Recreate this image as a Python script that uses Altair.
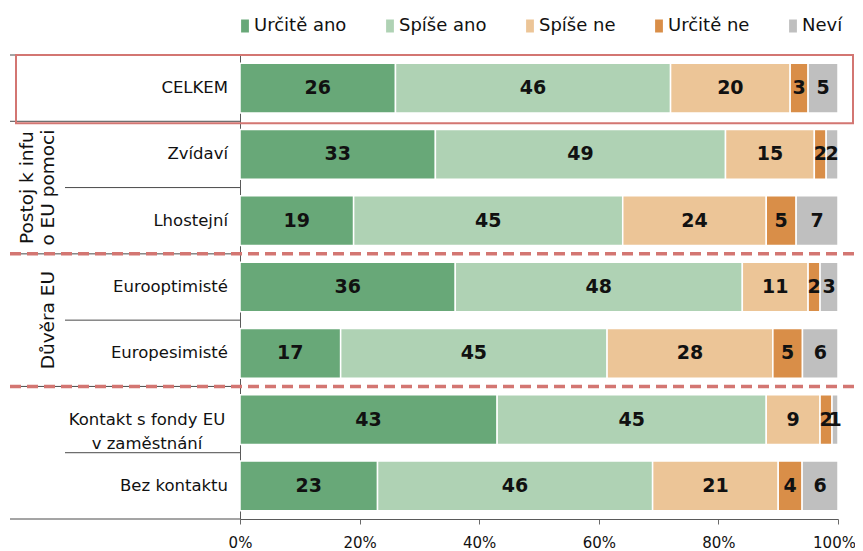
import altair as alt
import pandas as pd

# ---------------- data ----------------
rows = ["CELKEM", "Zvídaví", "Lhostejní", "Eurooptimisté", "Europesimisté",
        "Kontakt s fondy EU\nv zaměstnání", "Bez kontaktu"]
row_groups = [0, 1, 1, 2, 2, 3, 3]
group_labels = {1: "Postoj k infu\no EU pomoci", 2: "Důvěra EU"}

series = ["Určitě ano", "Spíše ano", "Spíše ne", "Určitě ne", "Neví"]
colors = ["#68A878", "#AFD2B4", "#ECC597", "#D98E48", "#BFBFBF"]

urcite_ano = [26, 33, 19, 36, 17, 43, 23]
spise_ano = [46, 49, 45, 48, 45, 45, 46]
spise_ne = [20, 15, 24, 11, 28, 9, 21]
urcite_ne = [3, 2, 5, 2, 5, 2, 4]
nevi = [5, 2, 7, 3, 6, 1, 6]
values = [urcite_ano, spise_ano, spise_ne, urcite_ne, nevi]

# ---------------- tables ----------------
long_rows = []
for si, (s, vals) in enumerate(zip(series, values)):
    for ri, (r, v) in enumerate(zip(rows, vals)):
        long_rows.append({"row": r, "pos": ri, "series": s, "order": si, "value": v})
df = pd.DataFrame(long_rows)

labels_df = pd.DataFrame({
    "label": rows,
    "pos": list(range(len(rows))),
    "group": row_groups,
    "nlines": [r.count("\n") + 1 for r in rows],
})

grp_df = pd.DataFrame([
    {"glabel": lab,
     "nlines": lab.count("\n") + 1,
     "pos": sum(i for i, g in enumerate(row_groups) if g == gid)
            / sum(1 for g in row_groups if g == gid)}
    for gid, lab in group_labels.items()
])

long_b, short_b, dash_b = [], [], []
n = len(rows)
for i in range(n + 1):
    b = i - 0.5
    if i == 0 or i == n or row_groups[i] != row_groups[i - 1]:
        long_b.append(b)
        if 0 < i < n and row_groups[i - 1] != 0 and row_groups[i] != 0:
            dash_b.append(b)
    else:
        short_b.append(b)
long_df = pd.DataFrame({"b": long_b})
short_df = pd.DataFrame({"b": short_b})
dash_df = pd.DataFrame({"b": dash_b})

# ---------------- scales / axes ----------------
FONT = "DejaVu Sans"
yscale = alt.Scale(domain=[-0.5, n - 0.5], reverse=True, nice=False, zero=False)
xscale = alt.Scale(domain=[0, 1], nice=False, zero=False)
xaxis = alt.Axis(format="%", values=[0, 0.2, 0.4, 0.6, 0.8, 1.0], title=None,
                 grid=False, labelFont=FONT, labelFontSize=15, labelColor="#111111",
                 tickColor="#6A6A6A", tickSize=5, domainColor="#5A5A5A",
                 labelPadding=11, labelFlush=False,
                 labelOffset={"expr": "datum.value == 1 ? -4 : 0"})
yaxis = alt.Axis(labels=False, ticks=False, grid=False, title=None,
                 domainColor="#5A5A5A")
RED = "#D37672"
LINE = "#4A4A4A"

base = (
    alt.Chart(df)
    .transform_stack(stack="value", groupby=["row"], as_=["v0", "v1"],
                     offset="normalize", sort=[alt.SortField("order", order="ascending")])
    .transform_calculate(ylo="datum.pos - 0.375", yhi="datum.pos + 0.375",
                         mid="(datum.v0 + datum.v1) / 2")
)

bars = base.mark_bar(stroke="white", strokeWidth=1.5).encode(
    x=alt.X("v0:Q", scale=xscale, axis=xaxis),
    x2="v1:Q",
    y=alt.Y("ylo:Q", scale=yscale, axis=yaxis),
    y2="yhi:Q",
    color=alt.Color("series:N", scale=alt.Scale(domain=series, range=colors),
                    legend=alt.Legend(title=None, orient="none", direction="horizontal",
                                      legendX=-4, legendY=-38,
                                      symbolType="M-0.6,-1H0.6V1H-0.6Z", symbolSize=169,
                                      symbolStrokeWidth=0, labelFont=FONT, labelFontSize=18,
                                      labelColor="#111111", labelOffset=0, columnPadding=34)),
    order=alt.Order("order:Q"),
)

vals = base.mark_text(font=FONT, fontSize=19, fontWeight="bold", color="#111111",
                      baseline="middle", align="center").encode(
    x=alt.X("mid:Q", scale=xscale, axis=xaxis),
    y=alt.Y("pos:Q", scale=yscale, axis=yaxis),
    text="value:Q",
)

lab_base = alt.Chart(labels_df)
row_lab1 = lab_base.transform_filter("datum.nlines == 1").mark_text(
    font=FONT, fontSize=16.5, align="right", baseline="middle", color="#111111").encode(
    x=alt.value(-12), y=alt.Y("pos:Q", scale=yscale, axis=yaxis), text="label:N")
row_lab2 = lab_base.transform_filter("datum.nlines > 1").mark_text(
    font=FONT, fontSize=16.5, align="center", baseline="middle", color="#111111",
    lineBreak="\n", lineHeight=24).encode(
    x=alt.value(-93), y=alt.Y("pos:Q", scale=yscale, axis=yaxis), text="label:N")

grp_base = alt.Chart(grp_df)
grp_lab1 = grp_base.transform_filter("datum.nlines == 1").mark_text(
    font=FONT, fontSize=18.5, angle=270, align="center", baseline="bottom",
    color="#111111").encode(
    x=alt.value(-182), y=alt.Y("pos:Q", scale=yscale, axis=yaxis), text="glabel:N")
grp_lab2 = grp_base.transform_filter("datum.nlines > 1").mark_text(
    font=FONT, fontSize=18.5, angle=270, align="center", baseline="bottom",
    lineBreak="\n", lineHeight=21, color="#111111").encode(
    x=alt.value(-203), y=alt.Y("pos:Q", scale=yscale, axis=yaxis), text="glabel:N")

long_rules = alt.Chart(long_df).mark_rule(color=LINE, strokeWidth=1).encode(
    x=alt.value(-230), x2=alt.value(0), y=alt.Y("b:Q", scale=yscale, axis=yaxis))
short_rules = alt.Chart(short_df).mark_rule(color=LINE, strokeWidth=1).encode(
    x=alt.value(-175), x2=alt.value(0), y=alt.Y("b:Q", scale=yscale, axis=yaxis))
dash_rules = alt.Chart(dash_df).mark_rule(color=RED, strokeWidth=3.5,
                                           strokeDash=[11, 6]).encode(
    x=alt.value(-230), x2=alt.value(615), y=alt.Y("b:Q", scale=yscale, axis=yaxis))

box = lab_base.transform_filter("datum.group == 0").transform_calculate(
    t="datum.pos - 0.5", bt="datum.pos + 0.53").mark_rect(
    filled=False, stroke=RED, strokeWidth=2).encode(
    x=alt.value(-224), x2=alt.value(613),
    y=alt.Y("t:Q", scale=yscale, axis=yaxis), y2="bt:Q")

chart = (
    alt.layer(long_rules, short_rules, bars, vals, row_lab1, row_lab2, grp_lab1, grp_lab2,
              dash_rules, box)
    .properties(width=598, height=464,
                autosize=alt.AutoSizeParams(type="none"),
                padding={"left": 232, "top": 47, "right": 17, "bottom": 32})
    .configure_view(stroke=None)
)

chart.save("out.html", embed_options={"renderer": "svg", "actions": False})
